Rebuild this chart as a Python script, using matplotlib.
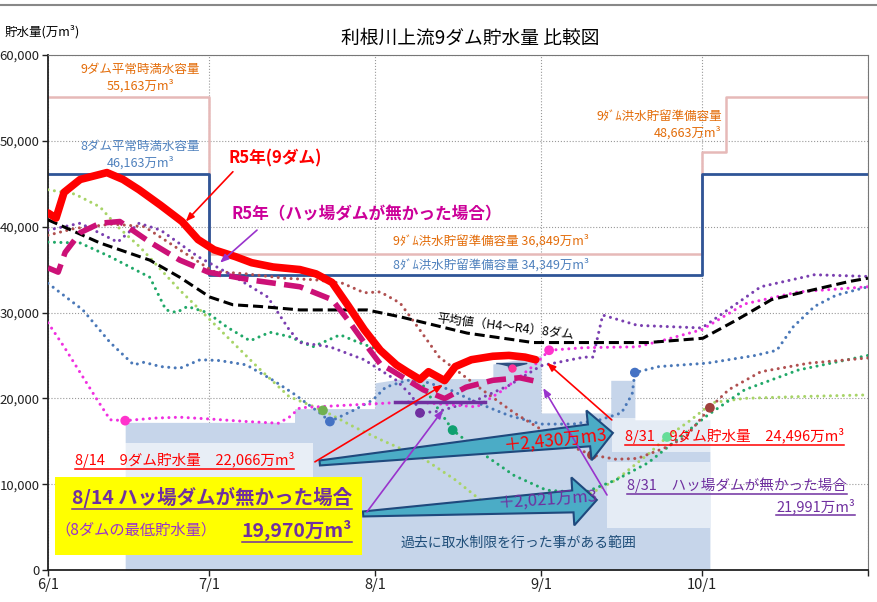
import numpy as np
import matplotlib
matplotlib.use("Agg")
import matplotlib.pyplot as plt
from matplotlib.patches import Polygon, Rectangle
from matplotlib.transforms import IdentityTransform
from matplotlib.lines import Line2D

plt.rcParams['font.family'] = ['Noto Sans CJK JP', 'DejaVu Sans']

# days counted from 6/1
tick_days = [0, 30, 61, 92, 122, 153]
tick_labels = ['6/1', '7/1', '8/1', '9/1', '10/1', '']

# capacity lines
cap9_days = [0, 30, 122, 126.5, 153]
cap9_vals = [55163, 36849, 48663, 55163, 55163]
cap8_days = [0, 30, 122, 153]
cap8_vals = [46163, 34349, 46163, 46163]

# range where water restrictions were done in the past
shade_days = [14.4, 46, 46, 61, 61, 66, 83, 83, 92, 92, 105, 105, 109.5, 109.5, 123.5]
shade_top = [17200, 17200, 18800, 18800, 21800, 22300, 22300, 24000, 25000, 18300, 18300, 22100, 22100, 17500, 17500]

# R5 (9 dams)
r5_days = [0, 1.5, 3, 6, 11, 14, 17, 21, 25, 28, 31, 35, 38, 42, 47, 50, 53, 56, 59, 62,
           65, 67, 69.4, 71, 74, 76, 79, 83, 86, 89, 91]
r5_vals = [41600, 41000, 44000, 45500, 46300, 45500, 44300, 42500, 40600, 38500, 37300, 36500,
           35800, 35300, 35000, 34500, 33500, 30800, 28000, 25600, 23900, 23100, 22200, 23100,
           22066, 23700, 24500, 24900, 25000, 24800, 24496]

# R5 without Yamba dam (8 dams)
r5x_days = [0, 1.9, 3.2, 6, 9.7, 13.4, 19, 24.6, 29.9, 37.7, 47, 53, 56, 59, 62, 64, 70, 74,
            78, 83, 88, 91]
r5x_vals = [35200, 34700, 37000, 39300, 40400, 40600, 38200, 36100, 34700, 33800, 33000, 31500,
            29100, 26500, 24000, 23300, 21000, 19970, 21300, 22100, 22400, 21991]

# average H4-R4 (8 dams)
avg_days = [0, 9.7, 19, 24.6, 30.2, 34.5, 39.6, 47, 59.5, 65.7, 78.2, 90.5, 103, 112, 122.2,
            128.4, 135, 140.4, 149.4, 153]
avg_vals = [40800, 38100, 36100, 34100, 31800, 30900, 30700, 30300, 30300, 29500, 27600, 26500,
            26500, 26500, 27000, 29100, 31500, 32300, 33600, 34000]

# past years (dotted)
purple_days = [0, 6, 13, 17, 21, 28, 35, 41, 45, 47, 52.6, 59, 65, 68, 69.4, 73, 80, 86, 92,
               100, 101.7, 103.5, 110, 122, 133, 143, 153]
purple_vals = [39600, 40400, 38200, 40400, 39600, 36500, 34100, 31800, 28000, 26500, 26000,
               24500, 22100, 20200, 18300, 18500, 19800, 21500, 23800, 24800, 24800, 29700,
               28500, 28200, 33000, 34400, 34200]
brown_days = [0, 5, 12, 18, 24.6, 30.8, 37, 44, 50, 55, 59, 62, 65.7, 69, 73, 81, 87, 93, 98,
              101.5, 106, 110, 115, 119, 123.5, 127, 133, 142, 153]
brown_vals = [39000, 39800, 40300, 40000, 37300, 34800, 34500, 34000, 33800, 33400, 32300,
              32400, 31100, 28300, 24800, 21000, 18300, 16000, 14300, 13400, 12900, 13000,
              14200, 15500, 18900, 21000, 23100, 24100, 24700]
teal_days = [0, 6, 11.6, 19, 22, 24, 26, 29.7, 33.4, 37.7, 41.4, 45, 49.4, 54.5, 58, 62, 67,
             69.4, 72, 75.5, 81, 87, 93, 100, 106, 112, 118, 123, 130, 140, 153]
teal_vals = [38200, 38100, 36500, 34100, 30300, 30000, 30700, 30000, 28300, 26700, 27700,
             27200, 26000, 27400, 26500, 25600, 23000, 22100, 19500, 16300, 13600, 11000,
             9300, 9000, 10500, 12500, 15500, 18000, 21000, 23300, 25000]
ygreen_days = [0, 5, 9.7, 13, 17.2, 24.6, 30.8, 39, 45, 51.3, 57, 62, 70, 76, 82, 88, 94,
               100, 106, 112, 115.5, 120, 124, 130, 140, 153]
ygreen_vals = [44300, 43800, 42300, 40000, 37600, 32600, 28800, 23700, 20200, 18600, 16700,
               15200, 13000, 10500, 7500, 6800, 7200, 8500, 10500, 13500, 15500, 17500, 19500,
               20000, 20200, 20400]
blue_days = [0, 6.5, 11.6, 16, 17.9, 21, 24.6, 28.4, 32, 37, 42, 45.7, 50.7, 52.6, 57, 60.6,
             63, 67, 70, 75, 80, 86, 92, 98, 103, 107, 109, 109.5, 114, 123, 132, 136, 139,
             143, 147, 153]
blue_vals = [33400, 30300, 26500, 23900, 24200, 23700, 23500, 24500, 24400, 23900, 22100,
             20600, 18300, 17300, 18600, 19800, 21300, 22100, 22000, 21000, 19500, 18000,
             17000, 17000, 17500, 18300, 20500, 23000, 23700, 24100, 25000, 25600, 28300,
             30700, 32000, 33000]
magenta_days = [0, 3, 6, 9, 11.6, 14.4, 20, 24.6, 30, 37, 43, 45, 47, 55.8, 68, 80, 85, 91,
                93.5, 100, 110, 115, 122, 130, 140, 153]
magenta_vals = [28800, 26000, 23000, 20000, 17500, 17400, 17700, 17800, 17600, 17300, 17100,
                17800, 18900, 19200, 19600, 19000, 21000, 24000, 25600, 25900, 26000, 26800,
                28000, 31000, 32400, 33000]

# yearly low markers
mark_days = [14.4, 51.3, 52.6, 69.4, 75.5, 93.5, 101.5, 109.5, 115.5, 123.5]
mark_vals = [17400, 18600, 17300, 18300, 16300, 25600, 13400, 23000, 15500, 18900]
mark_cols = ['#ff33cc', '#70b050', '#4472c4', '#7030a0', '#10a070', '#ff33cc', '#a0403c',
             '#4472c4', '#66dd99', '#a0403c']

# min level bar and lamp marker
minbar_days = [64.7, 81.5]
minbar_vals = [19600, 19600]
lamp_day, lamp_val = 86.3, 23800

fig = plt.figure(figsize=(8.77, 6.02), dpi=100)
ax = fig.add_axes([48/877, 32/602, 820/877, 515/602])
ax.set_xlim(0, 153)
ax.set_ylim(0, 60000)

ax.set_yticks(np.arange(0, 60001, 10000))
ax.set_yticklabels([f'{v:,.0f}' for v in np.arange(0, 60001, 10000)], fontsize=9.5)
ax.set_xticks(tick_days)
ax.set_xticklabels(tick_labels, fontsize=10.5)
ax.tick_params(direction='out', length=4, width=1, colors='#222222', pad=2)
ax.grid(True, color='#999999', ls=':', lw=0.8)
ax.set_axisbelow(True)
for s in ['top', 'right']:
    ax.spines[s].set_color('#777777')
for s in ['left', 'bottom']:
    ax.spines[s].set_color('#222222')
    ax.spines[s].set_linewidth(1.3)

ax.fill_between(shade_days, 0, shade_top, color='#c6d5ea', lw=0, zorder=1)

# pale boxes behind texts
ax.add_patch(Rectangle((104.3, 4900), 19.2, 7700, color='white', alpha=0.55, lw=0, zorder=1.5))
ax.add_patch(Rectangle((105.2, 13750), 47.8, 3950, color='white', alpha=0.55, lw=0, zorder=1.5))
ax.add_patch(Rectangle((2.6, 10700), 46.8, 4100, color='white', alpha=0.6, lw=0, zorder=1.5))

ax.plot(cap9_days, cap9_vals, drawstyle='steps-post', color='#e6b9b8', lw=1.8, zorder=2)
ax.plot(cap8_days, cap8_vals, drawstyle='steps-post', color='#2f5597', lw=2, zorder=2.1)

dot = dict(lw=2.2, ls=(0, (0.01, 2.1)), dash_capstyle='round', zorder=3)
ax.plot(ygreen_days, ygreen_vals, color='#a8d468', **dot)
ax.plot(teal_days, teal_vals, color='#20a868', **dot)
ax.plot(blue_days, blue_vals, color='#4a78b8', **dot)
ax.plot(brown_days, brown_vals, color='#b05050', **dot)
ax.plot(purple_days, purple_vals, color='#7a3fb0', **dot)
ax.plot(magenta_days, magenta_vals, color='#f030e0', **dot)
ax.scatter(mark_days, mark_vals, s=36, c=mark_cols, zorder=4)

ax.plot(avg_days, avg_vals, color='black', lw=2.2, ls=(0, (3.3, 1.6)), zorder=5)
ax.plot(r5x_days, r5x_vals, color='#cc1177', lw=4, ls=(0, (3.5, 1.5)), zorder=6)
ax.plot(r5_days, r5_vals, color='#ff0000', lw=5.5, solid_capstyle='round', zorder=7)
ax.plot(minbar_days, minbar_vals, color='#7030a0', lw=2.5, zorder=6)
lamp = [(-1.8, 0.35), (1.8, 0.35), (0.4, 0.0), (0, -0.6), (-0.4, 0.0)]
ax.plot([lamp_day], [lamp_val], marker=lamp, ms=22, color='#2f4f80', ls='none', zorder=8)
ax.plot([lamp_day + 0.3], [lamp_val - 300], marker='o', ms=5, color='#ff3399', ls='none', zorder=9)


def block_arrow(p0, p1, w0, w1, hw, hl, fc, ec):
    a = ax.transData.transform(p0)
    b = ax.transData.transform(p1)
    d = b - a
    u = d / np.hypot(*d)
    n = np.array([-u[1], u[0]])
    neck = b - u * hl
    pts = [a + n * w0 / 2, neck + n * w1 / 2, neck + n * hw / 2, b,
           neck - n * hw / 2, neck - n * w1 / 2, a - n * w0 / 2]
    ax.add_patch(Polygon(pts, closed=True, transform=IdentityTransform(),
                         fc=fc, ec=ec, lw=1.5, zorder=10))


block_arrow((50.7, 12470), (105.4, 15970), 5, 22, 50, 24, '#4bacc6', '#1f497d')
block_arrow((58.8, 6530), (102.4, 8160), 5, 22, 48, 24, '#4bacc6', '#1f497d')

# thin arrows
thin = [((34.5, 46400), (25.7, 40600), '#ff0000'),
        ((39.0, 39600), (32.1, 35800), '#9933cc'),
        ((49.8, 12600), (73.7, 21560), '#ff0000'),
        ((59.5, 6760), (73.7, 18650), '#9933cc'),
        ((105.2, 17480), (93.1, 24130), '#ff0000'),
        ((104.3, 8740), (92.4, 21200), '#9933cc')]
for s, e, c in thin:
    ax.annotate('', xy=e, xytext=s,
                arrowprops=dict(arrowstyle='-|>,head_length=0.5,head_width=0.2', color=c,
                                lw=1.2, shrinkA=0, shrinkB=0), zorder=11)

# yellow box
ax.add_patch(Rectangle((1.3, 1750), 57.3, 9090, color='#ffff00', lw=0, zorder=12))

orange = '#e36c09'
lblue = '#4f81bd'
purple = '#7030a0'
T = []
ax.text(17.2, 58300, '9ダム平常時満水容量', color=orange, fontsize=9, ha='center', va='center', zorder=13)
ax.text(17.2, 56400, '55,163万m³', color=orange, fontsize=9, ha='center', va='center', zorder=13)
ax.text(17.2, 49300, '8ダム平常時満水容量', color=lblue, fontsize=9, ha='center', va='center', zorder=13)
ax.text(17.2, 47400, '46,163万m³', color=lblue, fontsize=9, ha='center', va='center', zorder=13)
ax.text(64.4, 38300, '9ﾀﾞﾑ洪水貯留準備容量 36,849万m³', color=orange, fontsize=9, va='center', zorder=13)
ax.text(64.4, 35500, '8ﾀﾞﾑ洪水貯留準備容量 34,349万m³', color=lblue, fontsize=9, va='center', zorder=13)
ax.text(125.7, 52800, '9ﾀﾞﾑ洪水貯留準備容量', color=orange, fontsize=9, ha='right', va='center', zorder=13)
ax.text(125.7, 50900, '48,663万m³', color=orange, fontsize=9, ha='right', va='center', zorder=13)
ax.text(72.6, 29300, '平均値（H4～R4）8ダム', color='black', fontsize=9, va='center',
        rotation=-7, rotation_mode='anchor', zorder=13)
ax.text(33.6, 47900, 'R5年(9ダム)', color='#ff0000', fontsize=12, fontweight='bold',
        va='center', zorder=13)
ax.text(34.3, 41400, 'R5年（ハッ場ダムが無かった場合）', color='#cc0099', fontsize=12,
        fontweight='bold', va='center', zorder=13)

T.append((ax.text(5.0, 12800, '8/14　9ダム貯水量　22,066万m³', color='#ff0000', fontsize=10.5,
                  va='center', zorder=13), '#ff0000'))
T.append((ax.text(56.7, 8500, '8/14 ハッ場ダムが無かった場合', color=purple, fontsize=14,
                  fontweight='bold', ha='right', va='center', zorder=13), purple))
ax.text(1.3, 4660, '（8ダムの最低貯水量）', color='#9933cc', fontsize=11, va='center', zorder=13)
T.append((ax.text(56.7, 4660, '19,970万m³', color=purple, fontsize=14, fontweight='bold',
                  ha='right', va='center', zorder=13), purple))
T.append((ax.text(107.6, 15600, '8/31　9ダム貯水量　24,496万m³', color='#ff0000', fontsize=10.5,
                  va='center', zorder=13), '#ff0000'))
T.append((ax.text(108.0, 9900, '8/31　ハッ場ダムが無かった場合', color=purple, fontsize=10.5,
                  va='center', zorder=13), purple))
T.append((ax.text(150.6, 7460, '21,991万m³', color=purple, fontsize=10.5, ha='right',
                  va='center', zorder=13), purple))
ax.text(65.7, 3150, '過去に取水制限を行った事がある範囲', color='#1f4e79', fontsize=10,
        va='center', zorder=13)
ax.text(94.6, 15150, '＋2,430万m3', color='#ff0000', fontsize=12.5, ha='center', va='center',
        rotation=6, zorder=13)
ax.text(93.3, 8160, '＋2,021万m3', color=purple, fontsize=12, ha='center', va='center',
        rotation=4, zorder=13)

fig.text(470/877, 1 - 38/602, '利根川上流9ダム貯水量 比較図', fontsize=13.5, ha='center', va='center')
fig.text(5/877, 1 - 32/602, '貯水量(万m³)', fontsize=9, ha='left', va='center')
fig.add_artist(Line2D([0, 1], [1 - 5/602, 1 - 5/602], color='#888888', lw=1.5))

# underline texts
fig.canvas.draw()
r = fig.canvas.get_renderer()
for t, c in T:
    bb = t.get_window_extent(r)
    y = bb.y0 - 1
    fig.add_artist(Line2D([bb.x0, bb.x1], [y, y], transform=IdentityTransform(), color=c, lw=1.1,
                          zorder=14))

fig.savefig('out.png', dpi=100)
